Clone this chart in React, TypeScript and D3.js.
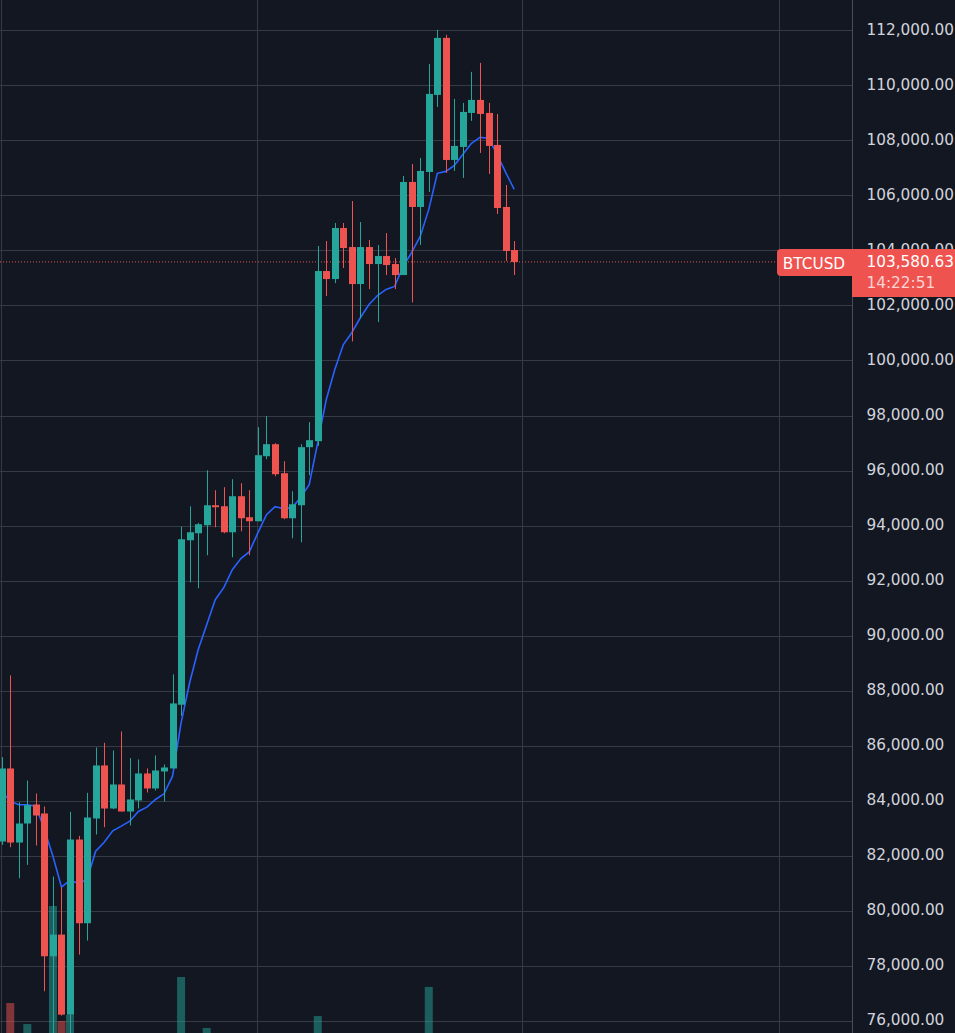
import React from "react";
import * as d3 from "d3";

const opens = [82521,85176,82485,83176,83867,83540,78352,79140,76231,82594,79552,83358,85285,83721,84594,83612,84012,84994,84449,85067,85176,87491,93467,93722,94013,94740,94703,93758,95067,94304,94158,96521,96958,95903,94267,94740,96849,97067,103249,102958,104812,104121,102776,104121,103503,103794,103503,103104,106486,105577,106849,109649,111721,107286,107758,108994,109467,108994,107831,105577,104013];
const highs = [85588,88557,83952,84739,84267,83794,81249,80861,83600,82727,84291,85939,86109,85830,86521,85551,85503,85176,85648,85321,88594,93964,94703,94100,96012,95285,95394,95685,95540,95285,97576,97976,96994,96340,95249,96958,97758,104158,104340,104994,104994,105794,105030,104376,104194,104630,103722,106704,107140,107358,110776,112012,111831,109504,109358,110485,110812,109358,108958,106376,104340];
const lows = [82400,82315,81188,81673,82376,77080,75500,76195,75500,78413,78922,82776,83043,83697,83612,83103,83721,84303,84376,83976,85176,87091,91940,91722,92922,93940,93722,92849,93794,92922,94158,96412,95794,94231,93540,93395,95831,96900,102340,102812,103358,100691,101528,102594,101394,103103,102594,103104,102109,104195,106122,109212,106813,106886,106631,108704,107540,106777,105322,103613,103104];
const closes = [85176,82485,83176,83843,83467,78352,79140,76231,82594,79552,83394,85285,83721,84594,83612,84049,84994,84449,85103,85212,87539,93504,93758,94049,94740,94667,93758,95067,94267,94158,96558,96958,95867,94267,94776,96849,97103,103249,102958,104812,104085,102776,104121,103503,103794,103467,103103,106486,105577,106886,109685,111721,107286,107795,109031,109467,108958,107795,105540,103977,103580];
const maValues = [84350,83988,83855,83855,83806,82958,81988,80861,81116,80994,81140,82170,82497,82909,83079,83261,83612,83770,84049,84255,84897,86835,88290,89490,90400,91308,91745,92400,92800,93053,93744,94398,94690,94617,94653,95017,95490,97017,98580,99672,100580,101017,101560,102035,102360,102580,102690,103415,103925,104507,105490,106800,106870,107090,107490,107890,108110,108070,107490,106835,106218];
const volumeIndex = [1,3,6,7,8,21,24,37,50];
const volumeValues = [26.4,11.4,95.7,13.6,17.9,45,8.6,17.1,37.9];
const priceTicks = d3.range(76000, 112001, 2000);
const verticalGridDates = [0, 30, 61, 91];
const lastPrice = 103580.63;
const symbol = "BTCUSD";
const countdown = "14:22:51";

const W = 955, H = 1033, PANE = 852;
const UP = "#26a69a", DOWN = "#ef5350", GRID = "#363a45", BG = "#131722";
const FONT = "'DejaVu Sans', sans-serif";
const FS = 15.3;

export default function App() {
  const x = d3.scaleLinear().domain([0, 60]).range([1.7, 514.2]);
  const y = d3.scaleLinear().domain([76000, 112000]).range([1021, 30.2]);
  const v = d3.scaleLinear().domain([0, 100]).range([1040, 900]);
  const ma = d3.line<number>().x((_, i) => x(i)).y((d) => y(d));
  const fmt = d3.format(",.2f");
  const gridX = d3.scaleLinear().domain([0, 91]).range([0.5, 778.8]);
  const bw = 7;
  return (
    <svg width={W} height={H} style={{ position: "fixed", left: 0, top: 0, display: "block", background: BG }}>
      <defs>
        <clipPath id="pane"><rect x={0} y={0} width={PANE} height={H} /></clipPath>
      </defs>
      <g stroke={GRID} strokeWidth={1}>
        {priceTicks.map((t) => (
          <line key={t} x1={0} x2={PANE} y1={Math.round(y(t)) + 0.5} y2={Math.round(y(t)) + 0.5} />
        ))}
        {verticalGridDates.map((d) => (
          <line key={d} x1={Math.round(gridX(d)) + 0.5} x2={Math.round(gridX(d)) + 0.5} y1={0} y2={H} />
        ))}
      </g>
      <g clipPath="url(#pane)">
        <line x1={0} x2={777} y1={y(lastPrice)} y2={y(lastPrice)} stroke={DOWN} strokeWidth={1} strokeDasharray="1 2" />
        {volumeIndex.map((idx, k) => (
          <rect key={idx} x={x(idx) - 4} width={8} y={v(volumeValues[k])} height={H - v(volumeValues[k])}
            fill={closes[idx] >= opens[idx] ? UP : DOWN} fillOpacity={0.5} />
        ))}
        <path d={ma(maValues) ?? ""} fill="none" stroke="#2962ff" strokeWidth={1.6} />
        {opens.map((o, i) => {
          const c = closes[i];
          const col = c >= o ? UP : DOWN;
          const cx = Math.round(x(i)) + 0.5;
          const top = y(Math.max(o, c));
          const bot = y(Math.min(o, c));
          return (
            <g key={i}>
              <line x1={cx} x2={cx} y1={y(highs[i])} y2={y(lows[i])} stroke={col} strokeWidth={1} />
              <rect x={cx - bw / 2} width={bw} y={top} height={Math.max(bot - top, 1)} fill={col} />
            </g>
          );
        })}
      </g>
      <line x1={PANE + 0.5} x2={PANE + 0.5} y1={0} y2={H} stroke="#4a4d57" strokeWidth={1} />
      <g fill="#d1d4dc" fontFamily={FONT} fontSize={FS}>
        {priceTicks.map((t) => (
          <text key={t} x={866.5} y={y(t) - 1.2} dy="0.36em">{fmt(t)}</text>
        ))}
      </g>
      <path d="M853,249 H781 a4,4 0 0 0 -4,4 V272 a4,4 0 0 0 4,4 H853 Z" fill={DOWN} />
      <rect x={852} y={249} width={103} height={48} fill={DOWN} />
      <text x={814} y={263} dy="0.36em" textAnchor="middle" fill="#fff" fontFamily={FONT} fontSize={FS}>{symbol}</text>
      <text x={866.5} y={261} dy="0.36em" fill="#fff" fontFamily={FONT} fontSize={FS}>{fmt(lastPrice)}</text>
      <text x={866.5} y={282} dy="0.36em" fill="#fff" fillOpacity={0.75} fontFamily={FONT} fontSize={FS}>{countdown}</text>
    </svg>
  );
}
